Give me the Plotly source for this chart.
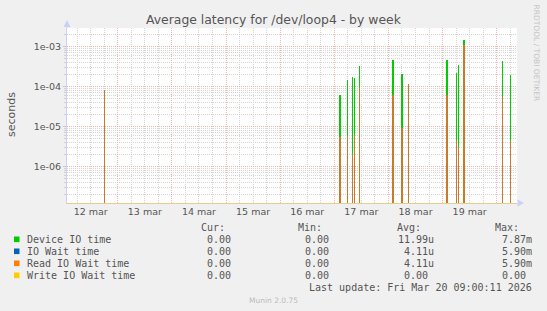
import plotly.graph_objects as go

# ---------------- data ----------------
title_text = "Average latency for /dev/loop4 - by week"
spike_times = ["2026-03-12 18:00", "2026-03-17 02:30", "2026-03-17 06:00", "2026-03-17 08:00",
               "2026-03-17 09:00", "2026-03-17 11:00", "2026-03-18 02:00", "2026-03-18 06:00",
               "2026-03-18 09:00", "2026-03-19 02:00", "2026-03-19 06:00", "2026-03-19 07:00",
               "2026-03-19 09:30", "2026-03-20 02:30", "2026-03-20 06:00"]
device_io = [8.3e-5, 6.2e-5, 1.4e-4, 1.7e-4, 1.6e-4, 3.3e-4, 4.6e-4, 2.0e-4,
             1.17e-4, 4.6e-4, 2.2e-4, 3.5e-4, 1.47e-3, 4.4e-4, 1.95e-4]
io_wait = [8.2e-5, 5.3e-6, 5.6e-6, 2.0e-6, 6.2e-6, 9.1e-5, 6.2e-5, 9.1e-6,
           1.17e-4, 5.9e-5, 4.2e-6, 3.0e-6, 1.1e-3, 5.4e-5, 4.2e-6]
read_io_wait = [8.2e-5, 5.3e-6, 5.6e-6, 2.0e-6, 6.2e-6, 9.1e-5, 6.2e-5, 9.1e-6,
                1.17e-4, 5.9e-5, 4.2e-6, 3.0e-6, 1.1e-3, 5.4e-5, 4.2e-6]
write_io_wait = [0.0] * 15

series_names = ["Device IO time", "IO Wait time", "Read IO Wait time", "Write IO Wait time"]
series_colors = ["#00cc00", "#0066b3", "#ff8000", "#ffcc00"]
cur_vals = [0.0, 0.0, 0.0, 0.0]
min_vals = [0.0, 0.0, 0.0, 0.0]
avg_vals = [11.99e-6, 4.11e-6, 4.11e-6, 0.0]
max_vals = [7.87e-3, 5.90e-3, 5.90e-3, 0.0]
last_update = "Last update: Fri Mar 20 09:00:11 2026"
version_text = "Munin 2.0.75"
side_text = "RRDTOOL / TOBI OETIKER"

x_range = ["2026-03-12 01:30", "2026-03-20 09:00"]
y_tickvals = [1e-6, 1e-5, 1e-4, 1e-3]
y_ticktext = ["1e-06", "1e-05", "1e-04", "1e-03"]

# ---------------- layout geometry ----------------
W, H = 547, 311
L, R, T, B = 67, 517, 28, 203


def px(x):
    return (x - L) / (R - L)


def py(y):
    return (B - y) / (B - T)


def fmt(v):
    if v == 0:
        return "0.00\u00a0"
    if v < 1e-3:
        return f"{v*1e6:.2f}u"
    if v < 1:
        return f"{v*1e3:.2f}m"
    return f"{v:.2f}\u00a0"


TXT = "#555555"
MONO = "DejaVu Sans Mono"
SANS = "DejaVu Sans"
MGRID = "#f4b4b4"
GRID = "#d6d6d6"

fig = go.Figure()
bar_w = 32 * 60 * 1000
data = [device_io, io_wait, read_io_wait, write_io_wait]
opac = [1.0, 1.0, 0.78, 1.0]
for name, col, vals, op in zip(series_names, series_colors, data, opac):
    fig.add_trace(go.Bar(x=spike_times, y=vals, name=name, width=bar_w,
                         marker=dict(color=col, line=dict(width=0)), opacity=op,
                         showlegend=False, hoverinfo="skip"))

minor_y = [m * 10 ** e for e in range(-7, -2) for m in range(2, 10)]

fig.update_layout(
    width=W, height=H,
    margin=dict(l=L, r=W - R, t=T, b=H - B, pad=0),
    paper_bgcolor="#f0f0f0", plot_bgcolor="#ffffff",
    barmode="overlay", bargap=0,
    font=dict(family=SANS, color=TXT, size=9.5),
    xaxis=dict(type="date", range=x_range, ticklabelmode="period",
               dtick=86400000, tick0="2026-03-12", tickformat="%-d %b",
               showgrid=True, gridcolor=MGRID, griddash="1px,1px", gridwidth=1,
               ticks="", showline=True, linecolor="#e4cf8c", linewidth=1,
               zeroline=False, tickfont=dict(size=9.5, color=TXT),
               minor=dict(dtick=6 * 3600 * 1000, tick0="2026-03-12", showgrid=True,
                          gridcolor=GRID, griddash="1px,1px", ticks=""),
               fixedrange=True),
    yaxis=dict(type="log", range=[-6.9175, -2.5425],
               tickmode="array", tickvals=y_tickvals, ticktext=y_ticktext,
               showgrid=True, gridcolor=MGRID, griddash="1px,1px",
               ticks="outside", ticklen=3, tickcolor="#c8c8c8",
               showline=True, linecolor="#ccd0f8", linewidth=1,
               zeroline=False, tickfont=dict(size=9.5, color=TXT),
               minor=dict(tickmode="array", tickvals=minor_y, showgrid=True,
                          gridcolor=GRID, griddash="1px,1px",
                          ticks="outside", ticklen=2, tickcolor="#d0d0d0"),
               fixedrange=True),
)

ann = []
ann.append(dict(text=title_text, x=px(273.5), y=py(19), xanchor="center", yanchor="middle",
                font=dict(family=SANS, size=12.4, color=TXT)))
ann.append(dict(text="seconds", x=px(11), y=py(115), xanchor="center", yanchor="middle",
                textangle=-90, font=dict(family=SANS, size=11, color=TXT)))
ann.append(dict(text=side_text, x=px(536.5), y=py(53), xanchor="center", yanchor="middle",
                textangle=90, font=dict(family=SANS, size=7.5, color="#c4c4c4")))

# legend headers
for hdr, xr in zip(["Cur:", "Min:", "Avg:", "Max:"], [225.7, 323.3, 422, 520]):
    ann.append(dict(text=hdr, x=px(xr), y=py(227.7), xanchor="right", yanchor="middle",
                    font=dict(family=MONO, size=10, color=TXT)))

row_y = [239.3, 251.3, 263.3, 275.3]
col_right = [238, 336, 434.7, 532.7]
shapes = []
for i, name in enumerate(series_names):
    ann.append(dict(text=name, x=px(26.3), y=py(row_y[i]), xanchor="left", yanchor="middle",
                    font=dict(family=MONO, size=10, color=TXT)))
    for vals, xr in zip([cur_vals, min_vals, avg_vals, max_vals], col_right):
        ann.append(dict(text=fmt(vals[i]), x=px(xr), y=py(row_y[i]), xanchor="right",
                        yanchor="middle", font=dict(family=MONO, size=10, color=TXT)))
    shapes.append(dict(type="rect", xref="paper", yref="paper",
                       x0=px(14), x1=px(19.5), y0=py(row_y[i] - 2.8), y1=py(row_y[i] + 2.8),
                       fillcolor=series_colors[i], line=dict(width=0)))

ann.append(dict(text=last_update, x=px(533.3), y=py(287.3), xanchor="right", yanchor="middle",
                font=dict(family=MONO, size=10, color=TXT)))
ann.append(dict(text=version_text, x=px(273), y=py(300), xanchor="center", yanchor="middle",
                font=dict(family=SANS, size=7.5, color="#bbbbbb")))

for a in ann:
    a.update(xref="paper", yref="paper", showarrow=False, borderpad=0)

# axis arrows
ax_col = "#ccd0f8"
shapes.append(dict(type="line", xref="paper", yref="paper", x0=px(67), x1=px(67),
                   y0=py(28), y1=py(22), line=dict(color=ax_col, width=1)))
shapes.append(dict(type="path", xref="paper", yref="paper",
                   path=f"M {px(63.5)} {py(27)} L {px(70.5)} {py(27)} L {px(67)} {py(20)} Z",
                   fillcolor=ax_col, line=dict(width=0)))
shapes.append(dict(type="path", xref="paper", yref="paper",
                   path=f"M {px(517.5)} {py(199.5)} L {px(517.5)} {py(206.5)} L {px(524)} {py(203)} Z",
                   fillcolor=ax_col, line=dict(width=0)))

fig.update_layout(annotations=ann, shapes=shapes)

locale_def = {
    "xx": {
        "dictionary": {},
        "format": {
            "days": ["domenica", "lunedì", "martedì", "mercoledì", "giovedì", "venerdì", "sabato"],
            "shortDays": ["dom", "lun", "mar", "mer", "gio", "ven", "sab"],
            "months": ["gennaio", "febbraio", "marzo", "aprile", "maggio", "giugno", "luglio",
                       "agosto", "settembre", "ottobre", "novembre", "dicembre"],
            "shortMonths": ["gen", "feb", "mar", "apr", "mag", "giu", "lug", "ago", "set",
                            "ott", "nov", "dic"],
            "date": "%d/%m/%Y",
        },
    }
}

fig.write_html("out.html", config={"locale": "xx", "locales": locale_def, "displayModeBar": False,
                                   "staticPlot": True})
